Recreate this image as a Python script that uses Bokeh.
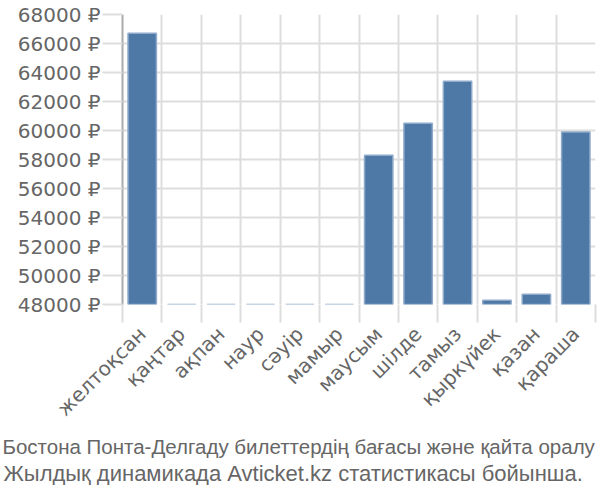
from bokeh.plotting import figure
from bokeh.models import FixedTicker, PrintfTickFormatter, Title, ColumnDataSource
from bokeh.embed import file_html
from bokeh.resources import INLINE
import math

months = ["желтоқсан", "қаңтар", "ақпан", "наур", "сәуір", "мамыр",
          "маусым", "шілде", "тамыз", "қыркүйек", "қазан", "қараша"]
prices = [66700, 48000, 48000, 48000, 48000, 48000,
          58300, 60500, 63400, 48300, 48700, 59900]
y_ticks = [48000, 50000, 52000, 54000, 56000, 58000, 60000, 62000, 64000, 66000, 68000]
caption1 = "Бостона Понта-Делгаду билеттердің бағасы және қайта оралу"
caption2 = "Жылдық динамикада Avticket.kz статистикасы бойынша."

n = len(months)
centers = [i + 0.5 for i in range(n)]
bounds = list(range(n + 1))
src = ColumnDataSource(dict(x=centers, top=prices, bottom=[y_ticks[0]] * n))

p = figure(width=598, height=494, x_range=(0, n), y_range=(y_ticks[0], y_ticks[-1]),
           output_backend="svg", toolbar_location=None,
           min_border_left=122, min_border_right=3, min_border_top=14, min_border_bottom=5)
p.frame_width = 473
p.frame_height = 290
p.outline_line_color = None

p.vbar(x="x", top="top", bottom="bottom", width=0.72, source=src,
       fill_color="#4e79a7", line_color="#8ea9c9", line_width=1.5)

font = "DejaVu Sans"
lab_color = "#666666"

xa = p.xaxis[0]
xa.ticker = FixedTicker(ticks=centers, minor_ticks=bounds)
xa.major_label_overrides = {c: m for c, m in zip(centers, months)}
xa.major_label_orientation = math.pi / 4
xa.major_tick_line_color = None
xa.minor_tick_line_color = "#dddddd"
xa.minor_tick_line_width = 2
xa.minor_tick_out = 18
xa.minor_tick_in = 0
xa.axis_line_color = None
xa.major_label_text_font = font
xa.major_label_text_font_size = "20px"
xa.major_label_text_color = lab_color
xa.major_label_standoff = 8

ya = p.yaxis[0]
ya.ticker = FixedTicker(ticks=y_ticks)
ya.formatter = PrintfTickFormatter(format="%d ₽")
ya.major_tick_line_color = "#dddddd"
ya.major_tick_line_width = 2
ya.major_tick_out = 20
ya.major_tick_in = 0
ya.minor_tick_line_color = None
ya.axis_line_color = "#aaaaaa"
ya.axis_line_width = 2
ya.major_label_text_font = font
ya.major_label_text_font_size = "20px"
ya.major_label_text_color = lab_color
ya.major_label_standoff = 2

p.xgrid.ticker = FixedTicker(ticks=bounds)
p.xgrid.grid_line_color = "#dddddd"
p.xgrid.grid_line_width = 2
p.ygrid.grid_line_color = "#dddddd"
p.ygrid.grid_line_width = 2

for txt, size, off, so in [(caption1, "20.5px", -120, 1), (caption2, "22px", -119, 0)]:
    t = Title(text=txt, align="left", offset=off, text_font="Liberation Sans",
              text_font_size=size, text_color=lab_color, text_font_style="normal",
              standoff=so)
    p.add_layout(t, "below")

open("out.html", "w").write(file_html(p, INLINE))
